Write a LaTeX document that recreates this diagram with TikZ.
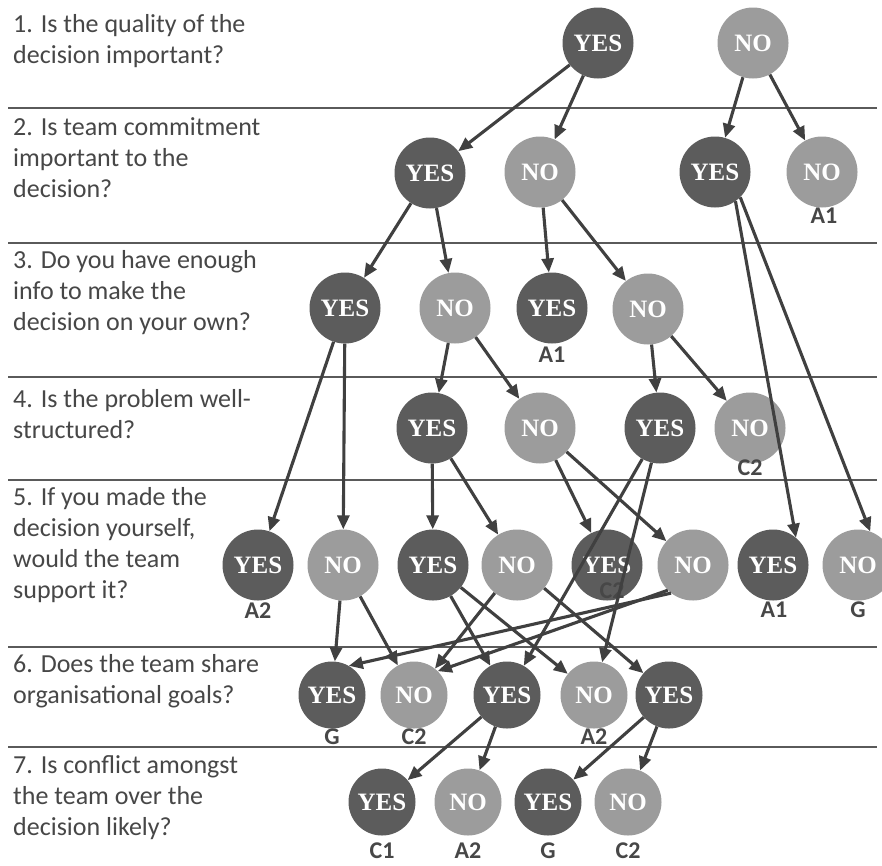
\documentclass[tikz,border=0pt]{standalone}
\usepackage{fontspec}
\setmainfont{Carlito}
\newfontfamily\nodefont{Liberation Serif}
\usetikzlibrary{arrows.meta}
\definecolor{dk}{HTML}{5C5C5C}
\definecolor{lt}{HTML}{9C9C9C}
\definecolor{ln}{HTML}{404040}
\definecolor{tx}{HTML}{474747}
\definecolor{rl}{HTML}{5A5A5A}
\begin{document}
\begin{tikzpicture}[x=1pt,y=-1pt,
  yesn/.style={circle,fill=dk,minimum size=71pt,inner sep=0pt,text=white,
    font=\nodefont\bfseries\fontsize{25}{25}\selectfont},
  non/.style={yesn,fill=lt},
  lower/.style={minimum size=67pt},
  term/.style={text=tx,inner sep=0pt,font=\bfseries\fontsize{24}{24}\selectfont},
  qtext/.style={text=tx,align=left,anchor=base west,inner sep=0pt,
    font=\fontsize{26}{31}\selectfont},
  arr/.style={draw=ln,line width=3.1pt,-{Triangle[length=14pt,width=12pt]}},
  rulel/.style={draw=rl,line width=2.2pt}]
\clip (0,0) rectangle (882,865);
\fill[white] (0,0) rectangle (882,865);

% horizontal rules
\foreach \yy in {108,243,377,480,647,747}
  \draw[rulel] (8,\yy) -- (877,\yy);

% questions (anchored at the baseline of their last line)
\node[qtext] (q1) at (13,63) {1. Is the quality of the\\decision important?};
\node[qtext] (q2) at (13,197) {2. Is team commitment\\important to the\\decision?};
\node[qtext] (q3) at (13,330) {3. Do you have enough\\info to make the\\decision on your own?};
\node[qtext] (q4) at (13,438) {4. Is the problem well-\\structured?};
\node[qtext] (q5) at (13,598) {5. If you made the\\decision yourself,\\would the team\\support it?};
\node[qtext] (q6) at (13,703) {6. Does the team share\\organisational goals?};
\node[qtext] (q7) at (13,835) {7. Is conflict amongst\\the team over the\\decision likely?};

% row 1
\node[yesn] (y1) at (598,43) {YES};
\node[non]  (n1) at (753,43) {NO};
% row 2
\node[yesn] (y2a) at (430,173) {YES};
\node[non]  (n2a) at (540,172) {NO};
\node[yesn] (y2b) at (715,172) {YES};
\node[non]  (n2b) at (822,172) {NO};
\node[term] (t2b) at (824,216) {A1};
% row 3
\node[yesn] (y3a) at (345,308) {YES};
\node[non]  (n3a) at (455,308) {NO};
\node[yesn] (y3b) at (552,308) {YES};
\node[term] (t3b) at (552,355) {A1};
\node[non]  (n3b) at (648,309) {NO};
% row 4
\node[yesn] (y4a) at (432,428) {YES};
\node[non]  (n4a) at (540,428) {NO};
\node[yesn] (y4b) at (660,428) {YES};
\node[non]  (n4b) at (750,428) {NO};
\node[term] (t4b) at (750,468) {C2};
% row 5
\node[yesn] (y5a) at (258,565) {YES};
\node[term] (t5a) at (258,611) {A2};
\node[non]  (n5a) at (343,565) {NO};
\node[yesn] (y5b) at (433,565) {YES};
\node[non]  (n5b) at (517,565) {NO};
\node[yesn] (y5c) at (607,565) {YES};
\node[term] (t5c) at (612,591) {C2};
\node[non]  (n5c) at (693,565) {NO};
\node[yesn] (y5d) at (773,565) {YES};
\node[term] (t5d) at (774,610) {A1};
\node[non]  (n5d) at (858,565) {NO};
\node[term] (t5e) at (858,610) {G};
% row 6
\node[yesn,lower] (y6a) at (332,695) {YES};
\node[term] (t6a) at (332,737) {G};
\node[non,lower]  (n6a) at (414,695) {NO};
\node[term] (t6b) at (414,737) {C2};
\node[yesn,lower] (y6b) at (507,695) {YES};
\node[non,lower]  (n6b) at (594,695) {NO};
\node[term] (t6c) at (594,737) {A2};
\node[yesn,lower] (y6c) at (669,695) {YES};
% row 7
\node[yesn,lower] (y7a) at (382,802) {YES};
\node[term] (t7a) at (382,851) {C1};
\node[non,lower]  (n7a) at (468,802) {NO};
\node[term] (t7b) at (468,851) {A2};
\node[yesn,lower] (y7b) at (548,802) {YES};
\node[term] (t7c) at (548,851) {G};
\node[non,lower]  (n7b) at (628,802) {NO};
\node[term] (t7d) at (628,851) {C2};

% connectors
\draw[arr] (y1) -- (y2a);
\draw[arr] (y1) -- (n2a);
\draw[arr] (n1) -- (y2b);
\draw[arr] (n1) -- (n2b);
\draw[arr] (y2a) -- (y3a);
\draw[arr] (y2a) -- (n3a);
\draw[arr] (n2a) -- (y3b);
\draw[arr] (n2a) -- (n3b);
\draw[arr] (y2b.-55) -- (y5d.50);
\draw[arr] (y2b.-45) -- (n5d.70);
\draw[arr] (y3a) -- (y5a);
\draw[arr] (y3a) -- (n5a);
\draw[arr] (n3a) -- (y4a);
\draw[arr] (n3a) -- (n4a);
\draw[arr] (n3b) -- (y4b);
\draw[arr] (n3b) -- (n4b);
\draw[arr] (y4a) -- (y5b);
\draw[arr] (y4a) -- (n5b);
\draw[arr] (n4a) -- (y5c);
\draw[arr] (n4a) -- (n5c);
\draw[arr] (y4b) -- (y6b);
\draw[arr] (y4b) -- (n6b);
\draw[arr] (n5a) -- (y6a);
\draw[arr] (n5a) -- (n6a);
\draw[arr] (y5b) -- (y6b);
\draw[arr] (y5b) -- (n6b);
\draw[arr] (n5b) -- (n6a);
\draw[arr] (n5b) -- (y6c);
\draw[arr] (n5c.232) -- (y6a.60);
\draw[arr] (n5c.225) -- (n6a.45);
\draw[arr] (y6b) -- (y7a);
\draw[arr] (y6b) -- (n7a);
\draw[arr] (y6c) -- (y7b);
\draw[arr] (y6c) -- (n7b);
\end{tikzpicture}
\end{document}
